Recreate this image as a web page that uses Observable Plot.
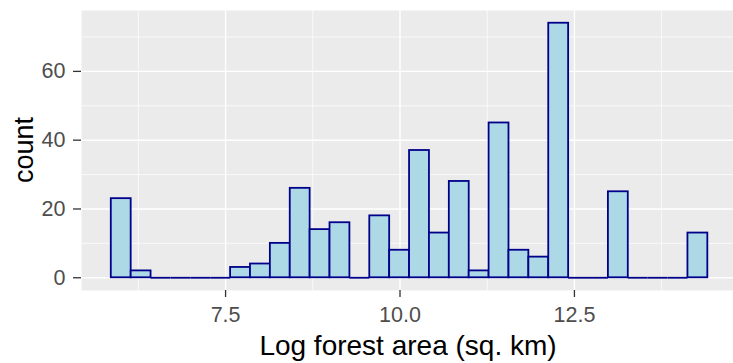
<!DOCTYPE html>
<html>
<head>
<meta charset="utf-8">
<script src="https://cdn.jsdelivr.net/npm/d3@7"></script>
<script src="https://cdn.jsdelivr.net/npm/@observablehq/plot@0.6"></script>
<style>
  html, body { margin: 0; padding: 0; background: white; }
</style>
</head>
<body>
<div id="chart"></div>
<script>
// Histogram bin edges (31 edges -> 30 bins)
const binEdges = [5.862, 6.147, 6.432, 6.717, 7.002, 7.287, 7.572, 7.857, 8.142, 8.427,
                  8.712, 8.997, 9.282, 9.567, 9.852, 10.137, 10.422, 10.707, 10.992, 11.277,
                  11.562, 11.847, 12.132, 12.417, 12.702, 12.987, 13.272, 13.557, 13.842, 14.127, 14.412];
// Counts per bin
const counts = [23, 2, 0, 0, 0, 0, 3, 4, 10, 26,
                14, 16, 0, 18, 8, 37, 13, 28, 2, 45,
                8, 6, 74, 0, 0, 25, 0, 0, 0, 13];
// Axis ticks
const xTicks = [7.5, 10.0, 12.5];
const xMinor = [6.25, 8.75, 11.25, 13.75];
const yTicks = [0, 20, 40, 60];
const yMinor = [10, 30, 50, 70];
const xTitle = "Log forest area (sq. km)";
const yTitle = "count";

const bins = counts.map((c, i) => ({x1: binEdges[i], x2: binEdges[i + 1], count: c}));
const zeroBins = bins.filter(d => d.count === 0);

const fill = "#ADD8E6", stroke = "#00008B";

const chart = Plot.plot({
  width: 733,
  height: 363,
  marginLeft: 81,
  marginRight: 0,
  marginTop: 10,
  marginBottom: 73,
  style: {fontFamily: "'Liberation Sans', Arial, sans-serif", background: "white", color: "#4D4D4D"},
  x: {domain: [5.435, 14.78]},
  y: {domain: [-3.7, 77.7]},
  marks: [
    Plot.frame({fill: "#EBEBEB", stroke: null}),
    Plot.gridX(xMinor, {stroke: "white", strokeOpacity: 1, strokeWidth: 0.7}),
    Plot.gridY(yMinor, {stroke: "white", strokeOpacity: 1, strokeWidth: 0.7}),
    Plot.gridX(xTicks, {stroke: "white", strokeOpacity: 1, strokeWidth: 1.4}),
    Plot.gridY(yTicks, {stroke: "white", strokeOpacity: 1, strokeWidth: 1.4}),
    Plot.rect(bins, {x1: "x1", x2: "x2", y1: 0, y2: "count", fill, stroke, strokeWidth: 1.8, inset: 0}),
    Plot.ruleY(zeroBins, {x1: "x1", x2: "x2", y: 0, stroke, strokeWidth: 1.8}),
    Plot.axisX(xTicks, {tickFormat: d => d.toFixed(1), tickSize: 7, tickPadding: 9, fontSize: 21.5,
      stroke: "#333333", strokeWidth: 1.3, label: null}),
    Plot.axisY(yTicks, {tickSize: 8, tickPadding: 8, fontSize: 21.5,
      stroke: "#333333", strokeWidth: 1.3, label: null})
  ]
});

const svg = d3.select(chart);
svg.append("text")
  .attr("x", 408)
  .attr("y", 355)
  .attr("text-anchor", "middle")
  .attr("font-size", 28)
  .attr("fill", "black")
  .text(xTitle);
svg.append("text")
  .attr("transform", "translate(33.3,150) rotate(-90)")
  .attr("text-anchor", "middle")
  .attr("font-size", 27)
  .attr("fill", "black")
  .text(yTitle);

document.getElementById("chart").appendChild(chart);
</script>
</body>
</html>
